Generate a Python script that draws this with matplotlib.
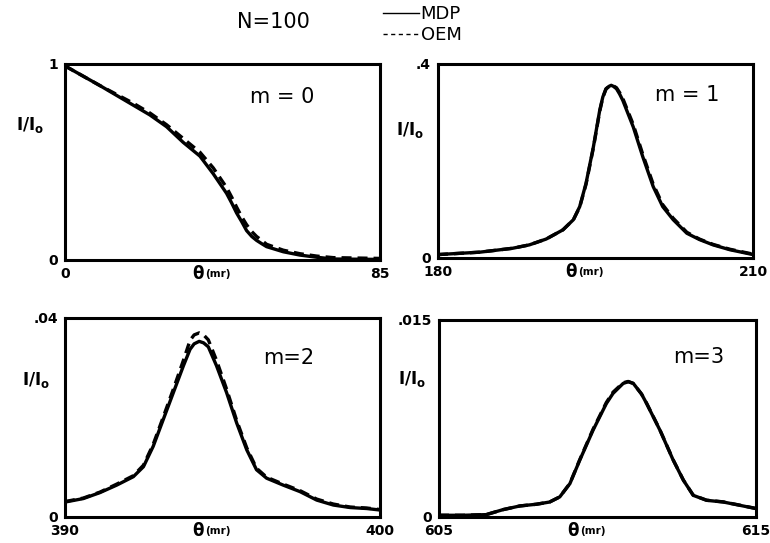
import matplotlib
matplotlib.use("Agg")
import matplotlib.pyplot as plt
from matplotlib.lines import Line2D

# m = 0
x0 = [0, 9.4, 18.4, 22.9, 27.4, 31.9, 36.4, 40.0, 41.8, 43.6, 45.0, 46.3, 47.7, 49.0, 50.4, 51.7, 53.1,
      54.4, 58.9, 63.4, 67.9, 72.4, 85]
mdp0 = [0.99, 0.89, 0.79, 0.74, 0.68, 0.60, 0.53, 0.44, 0.39, 0.34, 0.29, 0.24, 0.195, 0.15, 0.12, 0.10, 0.083,
        0.068, 0.042, 0.025, 0.014, 0.005, 0.003]
oem0 = [0.99, 0.89, 0.80, 0.75, 0.69, 0.62, 0.55, 0.47, 0.42, 0.37, 0.32, 0.27, 0.22, 0.18, 0.145, 0.12, 0.10,
        0.08, 0.05, 0.032, 0.02, 0.012, 0.008]

# m = 1
x1 = [180, 184.0, 187.1, 188.7, 190.3, 191.9, 192.9, 193.5, 194.1, 194.8, 195.4, 195.7, 196.0, 196.3,
      196.5, 196.7, 197.0, 197.3, 197.6, 198.6, 199.5, 200.5, 201.4, 202.4, 203.7, 204.9, 206.2, 207.8, 210]
mdp1 = [0.007, 0.012, 0.020, 0.027, 0.039, 0.058, 0.079, 0.106, 0.154, 0.229, 0.304, 0.332, 0.349, 0.354,
        0.356, 0.354, 0.349, 0.338, 0.325, 0.270, 0.209, 0.147, 0.106, 0.079, 0.051, 0.038, 0.027, 0.017, 0.007]
oem1 = [0.007, 0.012, 0.020, 0.027, 0.039, 0.058, 0.079, 0.105, 0.152, 0.227, 0.302, 0.331, 0.348, 0.354,
        0.356, 0.355, 0.351, 0.341, 0.329, 0.275, 0.214, 0.152, 0.110, 0.082, 0.053, 0.039, 0.028, 0.018, 0.008]

# m = 2
x2 = [390.0, 390.58, 391.11, 391.64, 392.17, 392.49, 392.80, 393.12, 393.44, 393.76, 393.97, 394.1, 394.26,
      394.4, 394.55, 394.81, 395.13, 395.45, 395.77, 396.08, 396.40, 396.93, 397.46, 397.99, 398.52, 399.05, 399.58, 400.0]
mdp2 = [0.0030, 0.0037, 0.0049, 0.0064, 0.0081, 0.0101, 0.0142, 0.0196, 0.0250, 0.0304, 0.0337, 0.0348, 0.0353,
        0.0350, 0.0342, 0.0304, 0.0250, 0.0189, 0.0135, 0.0095, 0.0078, 0.0064, 0.0051, 0.0034, 0.0024, 0.0019, 0.0017, 0.0014]
oem2 = [0.0031, 0.0038, 0.0050, 0.0066, 0.0083, 0.0104, 0.0146, 0.0201, 0.0257, 0.0315, 0.0355, 0.0366, 0.0370,
        0.0366, 0.0356, 0.0315, 0.0257, 0.0194, 0.0139, 0.0098, 0.0080, 0.0066, 0.0053, 0.0036, 0.0026, 0.0020, 0.0018, 0.0015]

# m = 3
x3 = [605.0, 605.76, 606.49, 607.02, 607.55, 608.07, 608.49, 608.81, 609.13, 609.44, 609.86, 610.28, 610.49,
      610.81, 610.97, 611.13, 611.39, 611.55, 611.97, 612.39, 612.71, 613.02, 613.44, 613.97, 614.49, 615.0]
mdp3 = [0.00013, 0.00013, 0.00018, 0.00056, 0.00084, 0.00097, 0.00114, 0.00153, 0.00254, 0.00432, 0.00661, 0.00864, 0.00941,
        0.01017, 0.01030, 0.01017, 0.00936, 0.00864, 0.00661, 0.00432, 0.00280, 0.00165, 0.00127, 0.00114, 0.00089, 0.00064]
oem3 = [0.00013, 0.00013, 0.00018, 0.00056, 0.00084, 0.00097, 0.00114, 0.00153, 0.00256, 0.00436, 0.00668, 0.00872, 0.00950,
        0.01022, 0.01032, 0.01017, 0.00936, 0.00866, 0.00663, 0.00434, 0.00281, 0.00166, 0.00128, 0.00115, 0.00090, 0.00065]

panels = [
    (x0, mdp0, oem0, (0, 85), (0, 1), ["0", "85"], ["0", "1"], "m = 0"),
    (x1, mdp1, oem1, (180, 210), (0, 0.4), ["180", "210"], ["0", ".4"], "m = 1"),
    (x2, mdp2, oem2, (390, 400), (0, 0.04), ["390", "400"], ["0", ".04"], "m=2"),
    (x3, mdp3, oem3, (605, 615), (0, 0.015), ["605", "615"], ["0", ".015"], "m=3"),
]

rects = [
    [0.0844, 0.5212, 0.4091, 0.3610],
    [0.5688, 0.5249, 0.4091, 0.3573],
    [0.0844, 0.0479, 0.4091, 0.3665],
    [0.5701, 0.0479, 0.4117, 0.3628],
]
text_pos = [(0.69, 0.83), (0.79, 0.84), (0.71, 0.80), (0.82, 0.81)]
ylab_pos = [(-0.111, 0.69), (-0.089, 0.66), (-0.092, 0.69), (-0.085, 0.70)]

fig = plt.figure(figsize=(7.7, 5.43), dpi=100)

for i, (x, mdp, oem, xl, yl, xt, yt, name) in enumerate(panels):
    ax = fig.add_axes(rects[i])
    ax.plot(x, mdp, color="black", lw=2.4, solid_joinstyle="round")
    ax.plot(x, oem, color="black", lw=2.4, dashes=(3, 1.8))
    ax.set_xlim(*xl)
    ax.set_ylim(*yl)
    for s in ax.spines.values():
        s.set_linewidth(2.2)
    ax.set_xticks(list(xl), xt, fontsize=10, fontweight="bold")
    ax.set_yticks(list(yl), yt, fontsize=10, fontweight="bold")
    ax.tick_params(length=0, pad=5)
    ax.text(*text_pos[i], name, transform=ax.transAxes, fontsize=15,
            ha="center", va="center")
    ax.set_ylabel("I/I$_\\mathregular{o}$", rotation=0, fontsize=12,
                  fontweight="bold", ha="center", va="center")
    ax.yaxis.set_label_coords(*ylab_pos[i])
    ax.text(0.422, -0.07, "θ", transform=ax.transAxes, fontsize=12,
            fontweight="bold", ha="center", va="center")
    ax.text(0.444, -0.07, "(mr)", transform=ax.transAxes, fontsize=7.5,
            fontweight="bold", ha="left", va="center")

fig.text(273 / 770, 1 - 22 / 543, "N=100", fontsize=15, ha="center", va="center")

handles = [Line2D([], [], color="black", lw=1.0),
           Line2D([], [], color="black", lw=1.0, dashes=(3, 2.5))]
fig.legend(handles, ["MDP", "OEM"], loc="upper left",
           bbox_to_anchor=(372 / 770, 1.01), frameon=False, fontsize=13,
           handlelength=2.0, handletextpad=0.1, labelspacing=0.15,
           borderaxespad=0.2)

fig.savefig("out.png", dpi=100)
